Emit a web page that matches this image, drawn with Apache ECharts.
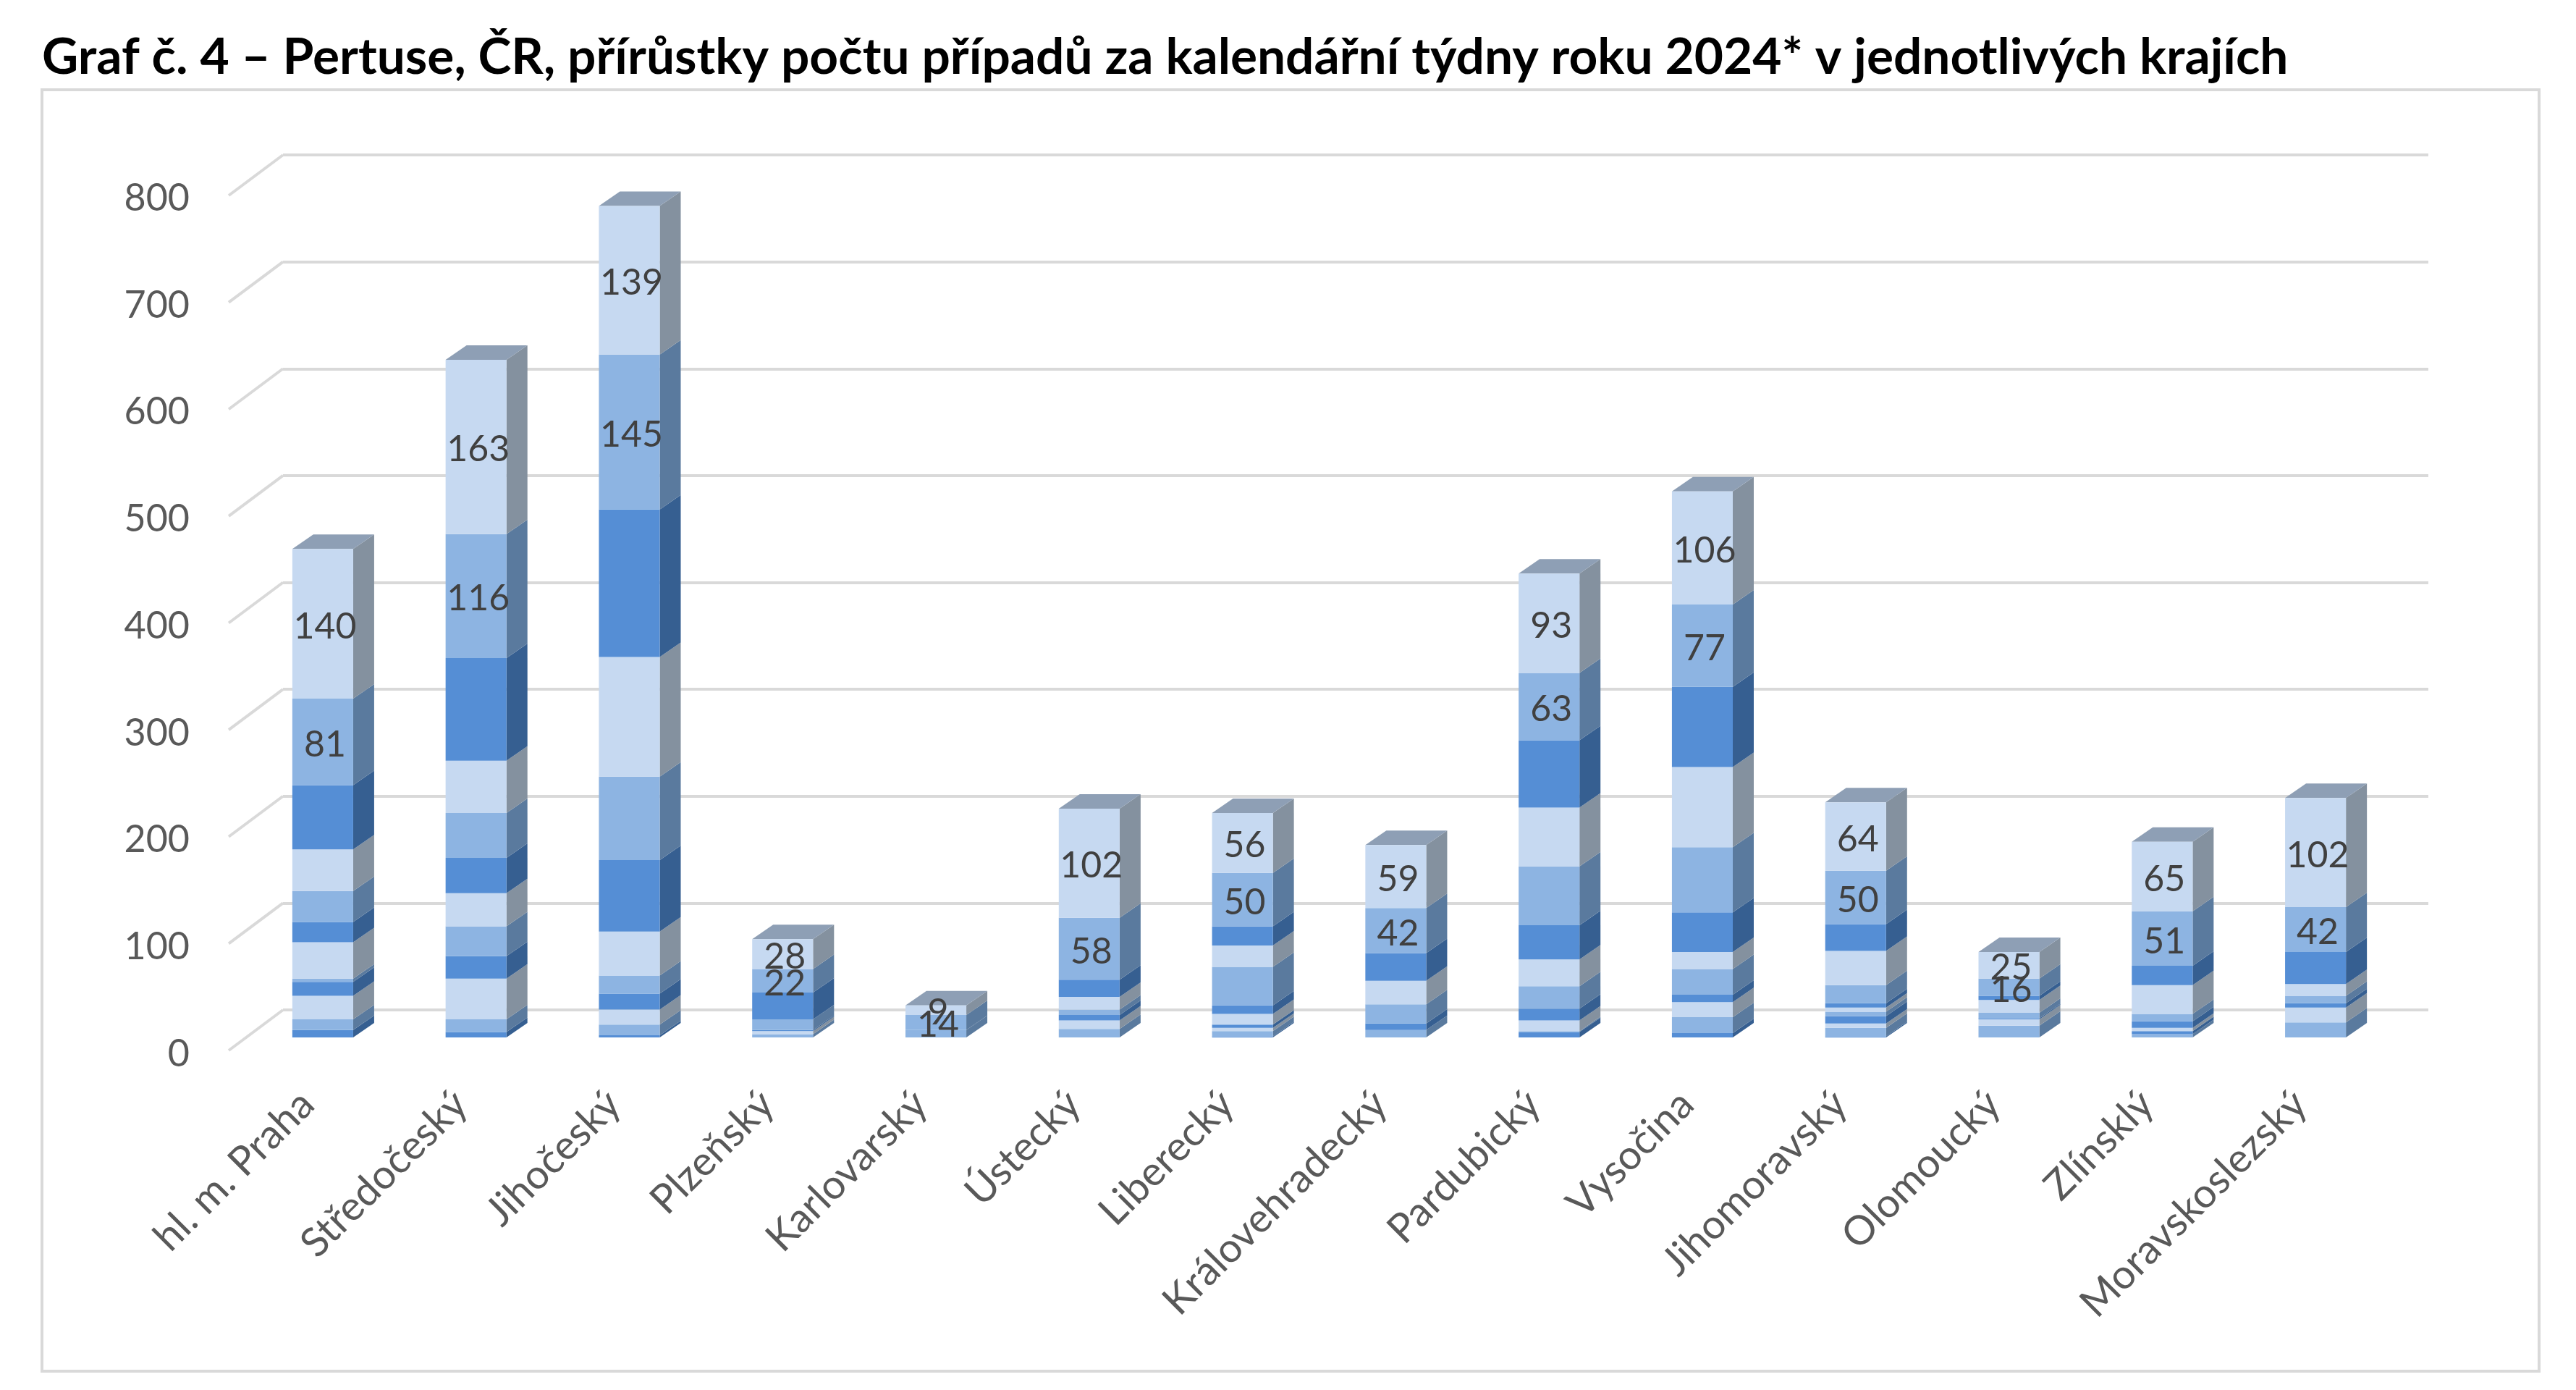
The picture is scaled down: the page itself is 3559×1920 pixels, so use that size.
<!DOCTYPE html>
<html lang="cs">
<head>
<meta charset="utf-8">
<title>Pertuse, ČR</title>
<style>html,body{margin:0;padding:0;background:#fff}#chart{width:3559px;height:1920px}</style>
<script src="https://cdn.jsdelivr.net/npm/echarts@6/dist/echarts.min.js"></script>
</head>
<body>
<div id="chart"></div>
<script>
// Regions along the category axis
const regions = ['hl. m. Praha','Středočeský','Jihočeský','Plzeňský','Karlovarský','Ústecký','Liberecký','Královehradecký','Pardubický','Vysočina','Jihomoravský','Olomoucký','Zlínsklý','Moravskoslezský'];
const valueTicks = [0,100,200,300,400,500,600,700,800];

// Weekly case increments per region, earliest week first
const week01 = [7,5,2,0,0,0,1,0,5,4,1,0,0,0];
const week02 = [10,12,10,0,0,0,5,0,1,15,8,0,3,0];
const week03 = [22,38,14,0,0,0,3,0,10,14,4,0,0,0];
const week04 = [13,21,15,0,0,0,3,0,11,7,7,0,3,0];
const week05 = [3,28,17,3,0,8,0,7,21,24,4,11,0,14];
const week06 = [34,31,41,3,0,8,10,0,25,16,4,6,3,14];
const week07 = [19,33,67,1,0,5,8,6,32,37,4,1,6,4];
const week08 = [29,42,78,10,7,5,36,18,55,61,17,5,7,7];
const week09 = [39,49,112,0,0,12,20,22,55,75,32,12,27,11];
const week10 = [60,96,138,25,0,16,18,26,63,75,25,4,18,30];
const week11 = [81,116,145,22,14,58,50,42,63,77,50,16,51,42];
const week12 = [140,163,139,28,9,102,56,59,93,106,64,25,65,102];
const weeks = [week01,week02,week03,week04,week05,week06,week07,week08,week09,week10,week11,week12];

// Shades repeat every three weeks: front face, side face
const frontShades = ['#558ED5','#8DB4E2','#C6D9F1'];
const sideShades = ['#365F91','#5A7A9E','#84919F'];
const topShade = '#8E9FB5';
const gridShade = '#D9D9D9';
const labelledWeeks = [10, 11];

const BAR_SHARE = 0.397;
const BAR_DEPTH = [29, -20];
const WALL_DEPTH = [-75, 56];

const fontFamily = 'Lato, "Noto Sans", sans-serif';
const totals = regions.map((_, r) => weeks.reduce((sum, w) => sum + w[r], 0));

// Oblique faces of one stacked block, placed through the value axis
function sideFace(shade) {
  return function (params, api) {
    const top = api.coord([api.value(0), api.value(2)]);
    const bottom = api.coord([api.value(0), api.value(1)]);
    const half = api.size([1, 0])[0] * BAR_SHARE / 2;
    const x = top[0] + half;
    return {
      type: 'polygon',
      shape: { points: [
        [x, top[1]],
        [x + BAR_DEPTH[0], top[1] + BAR_DEPTH[1]],
        [x + BAR_DEPTH[0], bottom[1] + BAR_DEPTH[1]],
        [x, bottom[1]]
      ] },
      style: { fill: shade },
      silent: true
    };
  };
}

function topFace(params, api) {
  const p = api.coord([api.value(0), api.value(1)]);
  const half = api.size([1, 0])[0] * BAR_SHARE / 2;
  return {
    type: 'polygon',
    shape: { points: [
      [p[0] - half, p[1]],
      [p[0] + half, p[1]],
      [p[0] + half + BAR_DEPTH[0], p[1] + BAR_DEPTH[1]],
      [p[0] - half + BAR_DEPTH[0], p[1] + BAR_DEPTH[1]]
    ] },
    style: { fill: topShade },
    silent: true
  };
}

// Slanted wall lines joining the back gridlines to the value labels
function wallLine(params, api) {
  const p = api.coord([0, api.value(0)]);
  const xStart = params.coordSys.x;
  return {
    type: 'line',
    shape: { x1: xStart, y1: p[1], x2: xStart + WALL_DEPTH[0], y2: p[1] + WALL_DEPTH[1] },
    style: { stroke: gridShade, lineWidth: 4 },
    silent: true
  };
}

const series = [];
series.push({
  type: 'custom', xAxisIndex: 2, yAxisIndex: 2, renderItem: wallLine, z: 1,
  data: valueTicks.map(v => [v]), encode: { y: 0 }, clip: false
});

weeks.forEach((values, w) => {
  const shade = w % 3;
  let running = regions.map(() => 0);
  weeks.slice(0, w).forEach(prev => { running = running.map((s, r) => s + prev[r]); });
  series.push({
    type: 'custom', xAxisIndex: 0, yAxisIndex: 0, z: 3, clip: false,
    renderItem: sideFace(sideShades[shade]),
    data: values.map((v, r) => [r, running[r], running[r] + v]),
    encode: { x: 0, y: [1, 2] }
  });
  series.push({
    name: 'week' + (w + 1),
    type: 'bar', stack: 'cases', xAxisIndex: 0, yAxisIndex: 0, z: 4,
    barWidth: (BAR_SHARE * 100) + '%',
    data: values,
    itemStyle: { color: frontShades[shade] },
    label: {
      show: labelledWeeks.includes(w),
      position: 'inside',
      offset: [3, 4],
      color: '#404040',
      fontSize: 50,
      fontFamily
    }
  });
});

series.push({
  type: 'custom', xAxisIndex: 0, yAxisIndex: 0, z: 3, clip: false,
  renderItem: topFace,
  data: totals.map((t, r) => [r, t]),
  encode: { x: 0, y: 1 }
});

const chart = echarts.init(document.getElementById('chart'), null, { renderer: 'canvas' });
chart.setOption({
  animation: false,
  backgroundColor: '#ffffff',
  title: {
    text: 'Graf č. 4 – Pertuse, ČR, přírůstky počtu případů za kalendářní týdny roku 2024* v jednotlivých krajích',
    left: 53, top: 40,
    textStyle: { fontFamily, fontWeight: 'bold', fontSize: 69.4, color: '#000000' }
  },
  graphic: [{
    type: 'rect', z: -1,
    shape: { x: 58, y: 124, width: 3450, height: 1770 },
    style: { fill: '#ffffff', stroke: gridShade, lineWidth: 4 }
  }],
  grid: [
    { left: 340, right: 254, top: 252, bottom: 487 },   // bar plane
    { left: 316, right: 254, top: 274, bottom: 464 },   // front edge of the wall, carries value labels
    { left: 391, right: 204, top: 214, bottom: 525 }    // back wall
  ],
  xAxis: [
    {
      type: 'category', gridIndex: 0, data: regions,
      axisLine: { show: false }, axisTick: { show: false }, splitLine: { show: false },
      axisLabel: { rotate: 45, interval: 0, margin: 62, padding: [0, 30, 0, 0], color: '#595959', fontSize: 56, fontFamily }
    },
    { type: 'category', gridIndex: 1, show: false, data: regions },
    { type: 'category', gridIndex: 2, show: false, data: regions }
  ],
  yAxis: [
    { type: 'value', gridIndex: 0, min: 0, max: 800, interval: 100, show: false, splitLine: { show: false } },
    {
      type: 'value', gridIndex: 1, min: 0, max: 800, interval: 100,
      axisLine: { show: false }, axisTick: { show: false }, splitLine: { show: false },
      axisLabel: { margin: 54, color: '#595959', fontSize: 52, fontFamily }
    },
    {
      type: 'value', gridIndex: 2, min: 0, max: 800, interval: 100,
      axisLine: { show: false }, axisTick: { show: false }, axisLabel: { show: false },
      splitLine: { show: true, lineStyle: { color: gridShade, width: 4 } }
    }
  ],
  series
});
</script>
</body>
</html>
